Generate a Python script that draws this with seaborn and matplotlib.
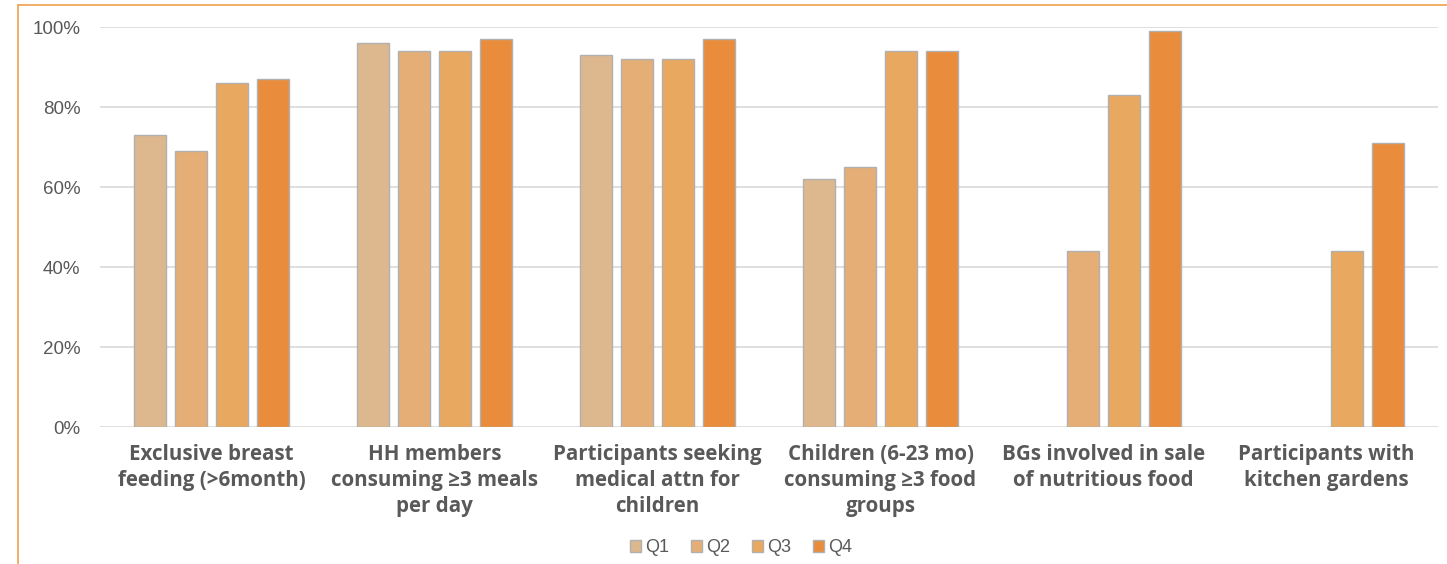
import numpy as np
import pandas as pd
import seaborn as sns
import matplotlib.pyplot as plt
from matplotlib.lines import Line2D

categories = [
    "Exclusive breast\nfeeding (>6month)",
    "HH members\nconsuming \u22653 meals\nper day",
    "Participants seeking\nmedical attn for\nchildren",
    "Children (6-23 mo)\nconsuming \u22653 food\ngroups",
    "BGs involved in sale\nof nutritious food",
    "Participants with\nkitchen gardens",
]
quarters = ["Q1", "Q2", "Q3", "Q4"]
q1 = [73, 96, 93, 62, np.nan, np.nan]
q2 = [69, 94, 92, 65, 44, np.nan]
q3 = [86, 94, 92, 94, 83, 44]
q4 = [87, 97, 97, 94, 99, 71]
y_ticks = [0, 20, 40, 60, 80, 100]

colors = ["#DDB88E", "#E5AE76", "#E9A860", "#E98C3C"]
text_grey = "#595959"

rows = []
for q, vals in zip(quarters, [q1, q2, q3, q4]):
    for c, v in zip(categories, vals):
        rows.append({"Indicator": c, "Quarter": q, "Value": v})
df = pd.DataFrame(rows)

sns.set_theme(style="white")
plt.rcParams["font.family"] = ["Open Sans", "DejaVu Sans"]

W, H = 1447, 564
fig = plt.figure(figsize=(W / 100, H / 100), dpi=100)
ax = fig.add_axes([100 / W, (H - 427) / H, (1438 - 100) / W, 400 / H])

sns.barplot(
    data=df, x="Indicator", y="Value", hue="Quarter",
    order=categories, hue_order=quarters, palette=colors, saturation=1,
    errorbar=None, width=0.735, gap=0.2,
    edgecolor="#B0B0B0", linewidth=1.0, ax=ax, zorder=3,
)

ax.set_xlim(-0.5, len(categories) - 0.5)
ax.set_ylim(0, 100)
ax.set_yticks(y_ticks)
ax.set_yticklabels([f"{t}%" for t in y_ticks], color=text_grey,
                   fontsize=13.5, family=["Liberation Sans", "DejaVu Sans"])
ax.set_xticks(range(len(categories)))
ax.set_xticklabels(categories, fontweight="bold", fontsize=14.8,
                   color=text_grey, linespacing=1.32,
                   family=["Open Sans", "DejaVu Sans"])
ax.yaxis.grid(True, color="#D9D9D9", linewidth=1.2, zorder=0)
ax.set_axisbelow(True)
ax.tick_params(axis="y", length=0, pad=14)
ax.tick_params(axis="x", length=0, pad=12)
ax.set_xlabel("")
ax.set_ylabel("")
for s in ax.spines.values():
    s.set_visible(False)

sns.move_legend(
    ax, "center", bbox_to_anchor=(741 / W, 1 - 548 / H),
    bbox_transform=fig.transFigure, ncol=4, frameon=False, title=None,
    handlelength=0.6, handleheight=0.6, handletextpad=0.25,
    columnspacing=1.2,
    prop={"family": ["Liberation Sans", "DejaVu Sans"], "size": 13},
)
for t in ax.get_legend().get_texts():
    t.set_color(text_grey)

# Orange frame around the chart area
frame_color = "#F0A04B"
fig.add_artist(Line2D([17.5 / W, 17.5 / W], [0, 1 - 5 / H],
                      transform=fig.transFigure, color=frame_color, linewidth=1.2))
fig.add_artist(Line2D([17.5 / W, 1], [1 - 5 / H, 1 - 5 / H],
                      transform=fig.transFigure, color=frame_color, linewidth=1.2))

fig.savefig("out.png", dpi=100)
